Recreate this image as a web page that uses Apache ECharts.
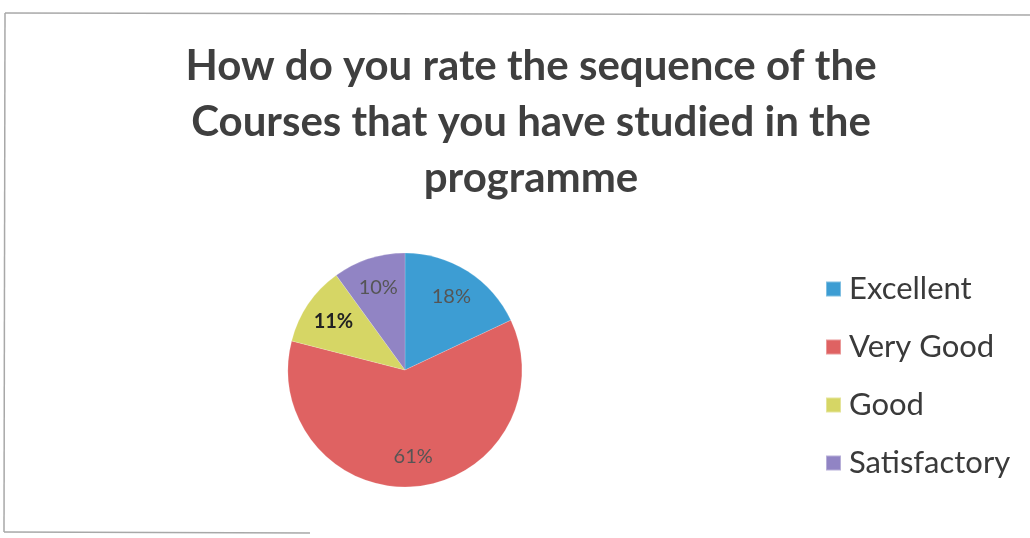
<!DOCTYPE html>
<html>
<head>
<meta charset="utf-8">
<script src="https://cdn.jsdelivr.net/npm/echarts@6/dist/echarts.min.js"></script>
<style>
html,body{margin:0;padding:0;background:#fff;}
#chart{width:1030px;height:538px;}
</style>
</head>
<body>
<div id="chart"></div>
<script>
const titleText = "How do you rate the sequence of the\nCourses that you have studied in the\nprogramme";
const categories = ["Excellent", "Very Good", "Good", "Satisfactory"];
const values = [18, 61, 11, 10];
const colors = ["#3d9dd3", "#df6262", "#d6d665", "#9184c4"];

const chart = echarts.init(document.getElementById('chart'));

const pieData = categories.map((c, i) => ({ name: c, value: values[i], itemStyle: { color: colors[i] } }));
const labelData = categories.map((c, i) => ({
  name: c, value: values[i],
  label: { fontWeight: c === 'Good' ? 'bold' : 'normal', color: c === 'Good' ? '#222' : '#555' }
}));

chart.setOption({
  backgroundColor: '#ffffff',
  animation: false,
  title: {
    text: titleText,
    left: 526,
    textAlign: 'center',
    top: 33,
    textStyle: { fontFamily: 'Lato', fontWeight: 'bold', fontSize: 42, lineHeight: 56, color: '#3f3f3f' }
  },
  legend: {
    orient: 'vertical',
    left: 820,
    top: 267,
    itemWidth: 15,
    itemHeight: 15,
    itemGap: 24,
    icon: 'rect',
    data: categories,
    textStyle: { fontFamily: 'Lato', fontSize: 31, lineHeight: 34, color: '#3a3a3a', padding: [0, 0, 0, 3] }
  },
  graphic: [
    { type: 'line', shape: { x1: 5, y1: 13, x2: 1030, y2: 15 }, style: { stroke: '#a8a8a8', lineWidth: 1.5 }, silent: true },
    { type: 'line', shape: { x1: 5, y1: 13, x2: 4, y2: 532 }, style: { stroke: '#a8a8a8', lineWidth: 1.5 }, silent: true },
    { type: 'line', shape: { x1: 4, y1: 532, x2: 310, y2: 533 }, style: { stroke: '#a8a8a8', lineWidth: 1.5 }, silent: true }
  ],
  series: [
    {
      type: 'pie',
      center: [405, 370],
      radius: [0, 117],
      startAngle: 90,
      clockwise: true,
      silent: true,
      label: { show: false },
      labelLine: { show: false },
      itemStyle: { borderColor: 'rgba(255,255,255,0.35)', borderWidth: 0.5 },
      data: pieData
    },
    {
      type: 'pie',
      center: [405, 370],
      radius: [50, 117],
      startAngle: 90,
      clockwise: true,
      silent: true,
      itemStyle: { color: 'rgba(0,0,0,0)' },
      label: {
        show: true,
        position: 'inside',
        formatter: '{c}%',
        fontFamily: 'Lato',
        fontSize: 20,
        color: '#555'
      },
      labelLine: { show: false },
      data: labelData
    }
  ]
});
</script>
</body>
</html>
